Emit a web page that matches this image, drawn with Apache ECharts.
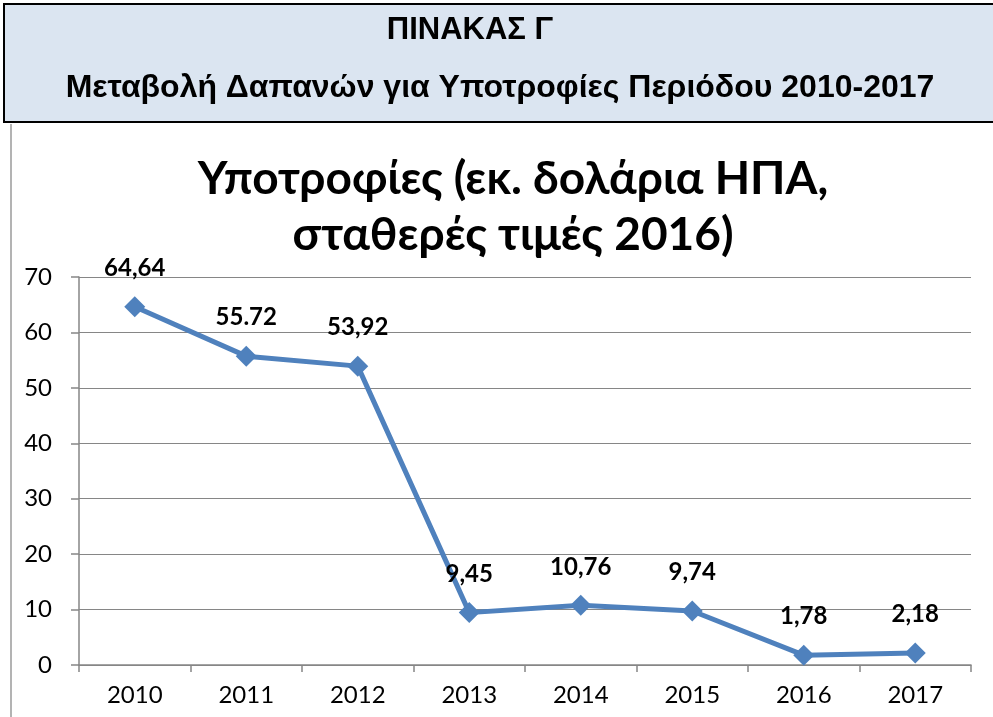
<!DOCTYPE html>
<html><head><meta charset="utf-8">
<script src="https://cdn.jsdelivr.net/npm/echarts@6/dist/echarts.min.js"></script>
<style>html,body{margin:0;padding:0;background:#fff}#c{width:993px;height:717px}</style>
</head><body><div id="c"></div>
<script>
const headerLine1 = 'ΠΙΝΑΚΑΣ Γ';
const headerLine2 = 'Μεταβολή Δαπανών για Υποτροφίες Περιόδου 2010-2017';
const chartTitle = 'Υποτροφίες (εκ. δολάρια ΗΠΑ,\nσταθερές τιμές 2016)';
const years = ['2010','2011','2012','2013','2014','2015','2016','2017'];
const values = [64.64, 55.72, 53.92, 9.45, 10.76, 9.74, 1.78, 2.18];
const valueLabels = ['64,64','55.72','53,92','9,45','10,76','9,74','1,78','2,18'];

const chart = echarts.init(document.getElementById('c'), null, {renderer:'canvas'});
const bodyFont = 'Lato';
const headFont = 'Liberation Sans';
chart.setOption({
  animation: false,
  backgroundColor: '#ffffff',
  graphic: [
    {type:'rect', shape:{x:4, y:4, width:1000, height:118}, style:{fill:'#dbe5f1', stroke:'#000', lineWidth:2}, z:0},
    {type:'line', shape:{x1:11, y1:124, x2:11, y2:717}, style:{stroke:'#9a9a9a', lineWidth:1.5}},
    {type:'text', x:470, y:30, style:{text:headerLine1, fontFamily:headFont, fontWeight:'bold', fontSize:31, fill:'#000', align:'center', verticalAlign:'middle'}},
    {type:'text', x:500, y:88, style:{text:headerLine2, fontFamily:headFont, fontWeight:'bold', fontSize:32, fill:'#000', align:'center', verticalAlign:'middle'}}
  ],
  title: {
    text: chartTitle, left: 508, top: 146, textAlign: 'center',
    textStyle: {fontFamily: bodyFont, fontWeight: 'bold', fontSize: 46, lineHeight: 56, color: '#000'}
  },
  grid: {left: 79, right: 22, top: 277, bottom: 52, containLabel: false},
  xAxis: {
    type: 'category', data: years, boundaryGap: true,
    axisLine: {lineStyle: {color: '#868686', width: 1.5}},
    axisTick: {show: true, length: 7, lineStyle: {color: '#868686', width: 1.5}},
    axisLabel: {fontFamily: bodyFont, fontSize: 24, color: '#000', margin: 18}
  },
  yAxis: {
    type: 'value', min: 0, max: 70, interval: 10,
    axisLine: {show: true, lineStyle: {color: '#868686', width: 1.5}},
    axisTick: {show: true, inside: false, length: 8, lineStyle: {color: '#868686', width: 1.5}},
    splitLine: {lineStyle: {color: '#868686', width: 1.2}},
    axisLabel: {fontFamily: bodyFont, fontSize: 24, color: '#000', margin: 27}
  },
  series: [{
    type: 'line', data: values,
    symbol: 'diamond', symbolSize: 21,
    lineStyle: {color: '#4f81bd', width: 5},
    itemStyle: {color: '#4f81bd'},
    label: {
      show: true, position: 'top', distance: 16,
      formatter: p => valueLabels[p.dataIndex],
      fontFamily: bodyFont, fontWeight: 'bold', fontSize: 24, color: '#000'
    }
  }]
});
</script></body></html>
